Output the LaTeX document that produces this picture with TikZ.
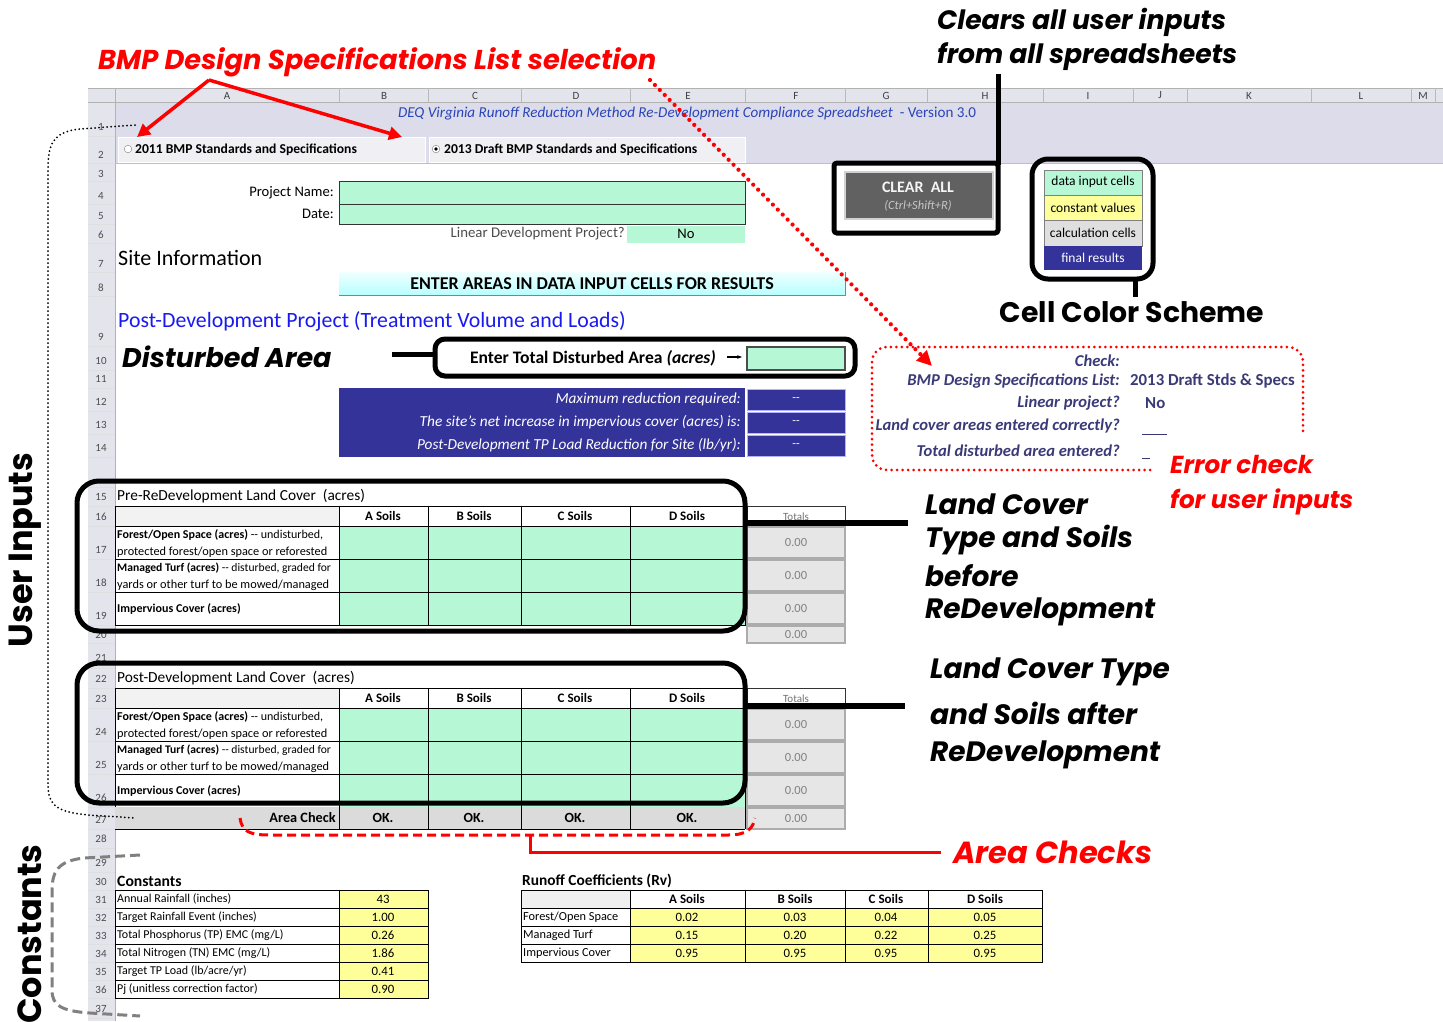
\documentclass[tikz,border=0pt]{standalone}
\usepackage{fontspec}
\setmainfont{Carlito}
\newfontfamily\annot{Poppins}
\usetikzlibrary{arrows.meta}
\definecolor{inputgreen}{HTML}{B6F8D6}
\definecolor{constyellow}{HTML}{FFFF99}
\definecolor{calcgray}{HTML}{E6E6E6}
\definecolor{resultblue}{HTML}{333399}
\definecolor{headgray}{HTML}{E4E5EC}
\definecolor{bandlav}{HTML}{DCDCEA}
\definecolor{titleblue}{HTML}{2A45B8}
\definecolor{postblue}{HTML}{1A1AF0}
\definecolor{checkblue}{HTML}{3A3A78}
\definecolor{notered}{HTML}{FF0000}
\newcommand{\fs}[1]{\fontsize{#1}{#1}\selectfont}
\tikzset{
  txt/.style={inner sep=0pt, font=\fs{12.3}},
  note/.style={inner sep=0pt, anchor=west, font=\annot\bfseries\itshape\fs{27.3}},
  bignote/.style={inner sep=0pt, font=\annot\bfseries\fs{33.5}},
  callout/.style={line width=5pt, rounded corners=22pt},
  totcell/.style={fill=calcgray, draw=gray!65, line width=1.2pt},
  chk/.style={inner sep=0pt, anchor=east, font=\bfseries\itshape\fs{16.6}, text=checkblue},
}
\begin{document}
\begin{tikzpicture}[x=1pt, y=-1pt]
\fill[white] (0,0) rectangle (1443,1021);
\useasboundingbox (0,0) rectangle (1443,1021);

% Sheet frame
\fill[headgray] (88,88) rectangle (1443,102);
\fill[headgray] (88,102) rectangle (115,1021);
\fill[bandlav] (115,102) rectangle (1443,163);
\draw[gray!60] (88,88) -- (1443,88);
\draw[gray!60] (88,102) -- (1443,102);
\draw[gray!60] (115,88) -- (115,1021);
\foreach \x in {339,428,521,630,745,845,927,1043,1133,1187,1311,1411,1435}
  \draw[gray!55] (\x,88) -- (\x,102);
\foreach \c/\x in {A/227,B/384,C/475,D/576,E/688,F/796,G/886,H/985,I/1088,J/1160,K/1249,L/1361,M/1423}
  \node[txt, font=\fs{11}, text=black!75] at (\x,95.5) {\c};
\foreach \y in {136,163,181,204,224,243,272,296,346,370,388,411,434,457,487,506,526,559,592,625,643,668,688,708,741,774,807,829,848,872,890,908,926,944,962,980,998,1018}
  \draw[white!75!gray] (88,\y) -- (115,\y);
\foreach \n/\y in {1/127,2/155,3/174,4/196,5/216,6/235,7/264,8/288,9/337,10/361,11/379,12/402,13/425,14/448,15/497,16/517,17/550,18/583,19/616,20/635,21/658,22/679,23/699,24/732,25/765,26/798,27/820,28/839,29/863,30/882,31/900,32/918,33/936,34/954,35/972,36/990,37/1009}
  \node[txt, font=\fs{11}, text=black!70] at (101,\y) {\n};
\draw[gray!50] (115,163) -- (1443,163);

% Title rows
\node[txt, font=\fs{15.1}, text=titleblue] at (687,114) {\itshape DEQ Virginia Runoff Reduction Method Re-Development Compliance Spreadsheet\upshape\ \ - Version 3.0};
\draw[fill=headgray!60!white, draw=white] (118,137) rectangle (425,162);
\draw[fill=headgray!60!white, draw=white] (429,137) rectangle (745,162);
\draw[gray, fill=white] (128,149) circle (3.8);
\draw[gray, fill=white] (436,149) circle (3.8);
\fill[black] (436,149) circle (1.8);
\node[txt, anchor=west, font=\bfseries\fs{13.6}] at (135,150) {2011 BMP Standards and Specifications};
\node[txt, anchor=west, font=\bfseries\fs{13.6}] at (444,150) {2013 Draft BMP Standards and Specifications};

% Project info
\node[txt, anchor=east, font=\fs{14.6}] at (334,193) {Project Name:};
\node[txt, anchor=east, font=\fs{14.6}] at (334,214) {Date:};
\draw[fill=inputgreen, draw=black!80] (339,181) rectangle (745,204);
\draw[fill=inputgreen, draw=black!80] (339,204) rectangle (745,224);
\node[txt, anchor=east, font=\fs{14.8}, text=black!70] at (625,234) {Linear Development Project?};
\fill[inputgreen] (627,226) rectangle (745,243);
\node[txt, font=\fs{14.6}] at (686,234) {No};
\node[txt, anchor=west, font=\fs{22}] at (118,258) {Site Information};
\shade[top color=cyan!6, bottom color=cyan!28] (339,272) rectangle (845,295);
\draw[blue!55, line width=1pt] (339,295) -- (845,295) -- (845,272);
\node[txt, font=\bfseries\fs{18}] at (592,283.5) {ENTER AREAS IN DATA INPUT CELLS FOR RESULTS};
\node[txt, anchor=west, font=\fs{21.8}, text=postblue] at (118,321) {Post-Development Project (Treatment Volume and Loads)};

% Disturbed area
\node[note, font=\annot\bfseries\itshape\fs{27}] (disturbed) at (122,357) {Disturbed Area};
\draw[line width=5pt, rounded corners=10pt, fill=white] (435,339) rectangle (855,376);
\draw[line width=5pt] (392,354) -- (435,354);
\node[txt, anchor=east, font=\bfseries\fs{17.6}] (enterarea) at (716,358) {Enter Total Disturbed Area \itshape(acres)};
\draw[line width=1.5pt, -{Stealth[length=5pt]}] (727,357) -- (742,357);
\draw[fill=inputgreen, line width=1.5pt, draw=black!70] (747,347) rectangle (845,370);

% Final results
\fill[resultblue] (339,388) rectangle (745,457);
\node[txt, anchor=east, font=\itshape\fs{15.3}, text=white] at (741,399) {Maximum reduction required:};
\node[txt, anchor=east, font=\itshape\fs{15.3}, text=white] at (741,422) {The site's net increase in impervious cover (acres) is:};
\node[txt, anchor=east, font=\itshape\fs{15.3}, text=white] at (741,445) {Post-Development TP Load Reduction for Site (lb/yr):};
\foreach \ya/\yb in {389/410,412/433,435/456}{
  \draw[fill=resultblue, draw=white!70!blue, line width=1pt] (747,\ya) rectangle (845,\yb);
  \node[txt, text=white, font=\fs{12}] at (796,{(\ya+\yb)/2}) {{-}{-}};
}

% Clear all
\node[note, font=\annot\bfseries\itshape\fs{26.6}] (clears) at (937,22) {Clears all user inputs};
\node[note, font=\annot\bfseries\itshape\fs{26.6}] (fromall) at (937,57) {from all spreadsheets};
\draw[line width=5pt] (998,74) -- (998,165);
\draw[line width=5pt, rounded corners=3pt] (834,163) rectangle (998,233);
\draw[fill=black!62, draw=gray!35, line width=1.5pt] (845,172) rectangle (993,219);
\node[txt, font=\bfseries\fs{16}, text=white!92!gray] at (918,187) {CLEAR\ \ ALL};
\node[txt, font=\itshape\fs{12.5}, text=gray!45] at (918,206) {(Ctrl+Shift+R)};

% Cell color scheme
\draw[line width=5pt, rounded corners=16pt] (1032,159) rectangle (1153,279);
\draw[fill=inputgreen, draw=gray] (1044,170) rectangle (1142,195);
\draw[fill=constyellow, draw=gray] (1044,195) rectangle (1142,220);
\draw[fill=gray!25, draw=gray] (1044,220) rectangle (1142,246);
\fill[resultblue] (1044,246) rectangle (1142,270);
\node[txt, font=\fs{13.5}] at (1093,182) {data input cells};
\node[txt, font=\fs{13.5}] at (1093,208) {constant values};
\node[txt, font=\fs{13.5}] at (1093,233) {calculation cells};
\node[txt, font=\fs{13.5}, text=white] at (1093,258) {final results};
\draw[line width=5pt] (1135,279) -- (1135,297);
\node[txt, font=\annot\bfseries\fs{28.3}] (scheme) at (1132,312) {Cell Color Scheme};

% BMP selection
\node[note, text=notered] (bmpsel) at (98,62) {BMP Design Specifications List selection};
\coordinate (selfoot) at (209,80);
\coordinate (opt2011) at (137,137);
\coordinate (opt2013) at (402,137);
\draw[notered, line width=3.5pt, -{Triangle[length=13pt,width=13pt]}] (selfoot) -- (opt2011);
\draw[notered, line width=3.5pt, -{Triangle[length=13pt,width=13pt]}] (selfoot) -- (opt2013);
\coordinate (selend) at (650,80);
\coordinate (checktip) at (932,366);
\draw[notered, line width=4.2pt, dash pattern=on 0pt off 7pt, line cap=round, -{Triangle[length=15pt,width=14pt]}] (selend) -- (checktip);

% Error check
\draw[notered, line width=3pt, dash pattern=on 0pt off 5.5pt, line cap=round, rounded corners=15pt] (1150,470) -- (872,470) -- (872,347) -- (1303,347) -- (1303,435);
\node[chk] at (1120,361) {Check:};
\node[chk] at (1120,381) {BMP Design Specifications List:};
\node[chk, anchor=west, font=\bfseries\fs{16.8}] at (1130,381) {2013 Draft Stds \& Specs};
\node[chk] at (1120,403) {Linear project?};
\node[chk, anchor=west, font=\bfseries\fs{16.8}] at (1145,403) {No};
\node[chk] at (1120,426) {Land cover areas entered correctly?};
\draw[checkblue, line width=1pt] (1142,434) -- (1167,434);
\node[chk] at (1120,451) {Total disturbed area entered?};
\draw[checkblue, line width=1pt] (1142,458) -- (1150,458);
\node[note, text=notered, font=\annot\bfseries\itshape\fs{24.6}] (errcheck) at (1170,464) {Error check};
\node[note, text=notered, font=\annot\bfseries\itshape\fs{24.6}] (foruser) at (1170,502) {for user inputs};

% Pre-ReDevelopment land cover
\node[txt, anchor=west, font=\fs{15.4}] at (117,496) {Pre-ReDevelopment Land Cover\ \ (acres)};
\fill[gray!10] (115,506) rectangle (339,526);
\fill[inputgreen] (339,526) rectangle (745,625);
\draw (115,506) rectangle (745,625);
\foreach \x in {339,428,521,630} \draw (\x,506) -- (\x,625);
\foreach \y in {526,559,592} \draw (115,\y) -- (745,\y);
\foreach \s/\x in {A/383,B/474,C/575,D/687} \node[txt, font=\bfseries\fs{13}] at (\x,516) {\s\ Soils};
\node[txt, anchor=west, font=\fs{12}] at (117,535) {\bfseries Forest/Open Space (acres)\mdseries\ {-}{-} undisturbed,};
\node[txt, anchor=west] at (117,552) {protected forest/open space or reforested};
\node[txt, anchor=west, font=\fs{11.6}] at (117,568) {\bfseries Managed Turf (acres)\mdseries\ {-}{-} disturbed, graded for};
\node[txt, anchor=west] at (117,585) {yards or other turf to be mowed/managed};
\node[txt, anchor=west, font=\bfseries\fs{12}] at (117,609) {Impervious Cover (acres)};
\draw[fill=white, draw=black!80, line width=1pt] (747,506) rectangle (845,526);
\node[txt, font=\fs{11}, text=black!55] at (796,517) {Totals};
\foreach \ya/\yb in {527/558,560/591,593/624,626/643}{
  \draw[totcell] (747,\ya) rectangle (845,\yb);
  \node[txt, font=\fs{12.5}, text=black!50] at (796,{(\ya+\yb)/2}) {0.00};
}
\draw[callout] (77,481) rectangle (745,631);
\draw[line width=6pt] (745,523) -- (908,523);
\node[note, font=\annot\bfseries\itshape\fs{28}] at (925,504) {Land Cover};
\node[note, font=\annot\bfseries\itshape\fs{28}] at (925,540) {Type and Soils};
\node[note, font=\annot\bfseries\itshape\fs{28}] at (925,576) {before};
\node[note, font=\annot\bfseries\itshape\fs{28}] at (925,612) {ReDevelopment};

% Post-Development land cover
\node[txt, anchor=west, font=\fs{15.4}] at (117,678) {Post-Development Land Cover\ \ (acres)};
\fill[gray!10] (115,688) rectangle (339,708);
\fill[inputgreen] (339,708) rectangle (745,807);
\draw (115,688) rectangle (745,807);
\foreach \x in {339,428,521,630} \draw (\x,688) -- (\x,807);
\foreach \y in {708,741,774} \draw (115,\y) -- (745,\y);
\foreach \s/\x in {A/383,B/474,C/575,D/687} \node[txt, font=\bfseries\fs{13}] at (\x,698) {\s\ Soils};
\node[txt, anchor=west, font=\fs{12}] at (117,717) {\bfseries Forest/Open Space (acres)\mdseries\ {-}{-} undisturbed,};
\node[txt, anchor=west] at (117,734) {protected forest/open space or reforested};
\node[txt, anchor=west, font=\fs{11.6}] at (117,750) {\bfseries Managed Turf (acres)\mdseries\ {-}{-} disturbed, graded for};
\node[txt, anchor=west] at (117,767) {yards or other turf to be mowed/managed};
\node[txt, anchor=west, font=\bfseries\fs{12}] at (117,791) {Impervious Cover (acres)};
\draw[fill=white, draw=black!80, line width=1pt] (747,688) rectangle (845,708);
\node[txt, font=\fs{11}, text=black!55] at (796,699) {Totals};
\foreach \ya/\yb in {709/740,742/773,775/806,808/829}{
  \draw[totcell] (747,\ya) rectangle (845,\yb);
  \node[txt, font=\fs{12.5}, text=black!50] at (796,{(\ya+\yb)/2}) {0.00};
}
% Area check row
\fill[gray!28] (115,807) rectangle (745,829);
\foreach \x in {339,428,521,630,745} \draw (\x,807) -- (\x,829);
\draw (115,829) -- (745,829);
\node[txt, anchor=east, font=\bfseries\fs{14.3}] at (336,818) {Area Check};
\foreach \x in {383,474,575,687} \node[txt, font=\bfseries\fs{14}] at (\x,818) {OK.};
\draw[callout] (77,663) rectangle (745,803);
\draw[line width=6pt] (745,706) -- (905,706);
\node[note, font=\annot\bfseries\itshape\fs{28}] at (930,672) {Land Cover Type};
\node[note, font=\annot\bfseries\itshape\fs{28}] at (930,713) {and Soils after};
\node[note, font=\annot\bfseries\itshape\fs{28}] at (930,755) {ReDevelopment};

% Area checks
\draw[notered, line width=3pt, dash pattern=on 9pt off 5pt] (240,818) .. controls (242,832) and (250,835) .. (270,835) -- (728,835) .. controls (748,835) and (753,828) .. (755,818);
\node[note, text=notered, font=\annot\bfseries\itshape\fs{30.5}] (areachk) at (953,852) {Area Checks};
\draw[notered, line width=3pt] (530,835) -- (530,852) -- ([xshift=-12pt]areachk.west);

% User inputs bracket
\draw[line width=2pt, dash pattern=on 0pt off 4pt, line cap=round] (135,125) -- (80,129) .. controls (52,132) and (48,145) .. (48,170) -- (48,785) .. controls (48,806) and (58,812) .. (88,815) -- (135,818);
\node[bignote, rotate=90] (userin) at (25,550) {User Inputs};

% Constants bracket
\draw[gray, line width=3pt, dash pattern=on 10pt off 5pt] (140,855) -- (84,858) .. controls (57,861) and (52,872) .. (52,892) -- (52,990) .. controls (52,1006) and (62,1011) .. (90,1013) -- (140,1016);
\node[bignote, rotate=90] (constants) at (30,934) {Constants};

% Constants table
\node[txt, anchor=west, font=\bfseries\fs{15.7}] at (117,881) {Constants};
\fill[constyellow] (339,890) rectangle (428,998);
\draw (115,890) rectangle (428,998);
\draw (339,890) -- (339,998);
\foreach \y in {908,926,944,962,980} \draw (115,\y) -- (428,\y);
\foreach \t/\v/\y in {{Annual Rainfall (inches)}/43/899,{Target Rainfall Event (inches)}/1.00/917,{Total Phosphorus (TP) EMC (mg/L)}/0.26/935,{Total Nitrogen (TN) EMC (mg/L)}/1.86/953,{Target TP Load (lb/acre/yr)}/0.41/971,{Pj (unitless correction factor)}/0.90/989}{
  \node[txt, anchor=west, font=\fs{12}] at (117,\y) {\t};
  \node[txt, font=\fs{12.8}] at (383,\y) {\v};
}

% Runoff coefficients
\node[txt, anchor=west, font=\bfseries\fs{15.4}] at (522,881) {Runoff Coefficients (Rv)};
\fill[gray!12] (521,890) rectangle (630,908);
\fill[constyellow] (630,908) rectangle (1042,962);
\draw (521,890) rectangle (1042,962);
\foreach \x in {630,745,845,928} \draw (\x,890) -- (\x,962);
\foreach \y in {908,926,944} \draw (521,\y) -- (1042,\y);
\foreach \s/\x in {A/687,B/795,C/886,D/985} \node[txt, font=\bfseries\fs{13}] at (\x,899) {\s\ Soils};
\node[txt, anchor=west] at (523,917) {Forest/Open Space};
\node[txt, anchor=west] at (523,935) {Managed Turf};
\node[txt, anchor=west] at (523,953) {Impervious Cover};
\foreach \a/\b/\c/\d/\y in {0.02/0.03/0.04/0.05/917,0.15/0.20/0.22/0.25/935,0.95/0.95/0.95/0.95/953}{
  \node[txt, font=\fs{12.8}] at (687,\y) {\a};
  \node[txt, font=\fs{12.8}] at (795,\y) {\b};
  \node[txt, font=\fs{12.8}] at (886,\y) {\c};
  \node[txt, font=\fs{12.8}] at (985,\y) {\d};
}
\end{tikzpicture}
\end{document}
